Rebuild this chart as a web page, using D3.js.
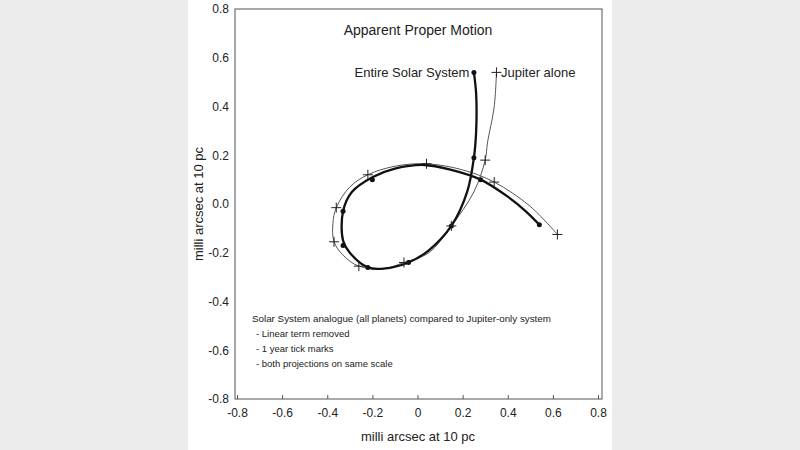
<!DOCTYPE html><html><head><meta charset="utf-8"><script src="https://cdn.jsdelivr.net/npm/d3@7"></script>
<style>body{margin:0;background:#ececec}text{font-family:"Liberation Sans",Arial,sans-serif;fill:#222}</style></head><body>
<svg id="c" width="800" height="450"></svg>
<script>
const ticks=[-0.8,-0.6,-0.4,-0.2,0,0.2,0.4,0.6,0.8];
const solarX=[0.25,0.26,0.26,0.25,0.22,0.15,0.05,-0.04,-0.15,-0.22,-0.3,-0.33,-0.33,-0.29,-0.2,-0.1,0.03,0.15,0.28,0.4,0.48,0.54];
const solarY=[0.54,0.45,0.3,0.19,0.05,-0.09,-0.19,-0.24,-0.265,-0.26,-0.2,-0.15,-0.03,0.05,0.11,0.145,0.16,0.14,0.1,0.03,-0.03,-0.085];
const solarDotX=[0.25,0.25,0.15,-0.04,-0.22,-0.33,-0.33,-0.2,0.28,0.54];
const solarDotY=[0.54,0.19,-0.09,-0.24,-0.26,-0.17,-0.03,0.1,0.1,-0.085];
const jupX=[0.35,0.34,0.31,0.3,0.25,0.15,0.05,-0.06,-0.15,-0.26,-0.33,-0.37,-0.375,-0.36,-0.3,-0.22,-0.1,0.04,0.2,0.34,0.5,0.62];
const jupY=[0.54,0.4,0.25,0.18,0.05,-0.09,-0.2,-0.24,-0.265,-0.255,-0.21,-0.155,-0.08,-0.015,0.07,0.12,0.155,0.165,0.14,0.09,-0.01,-0.125];
const jupTickX=[0.35,0.3,0.15,-0.06,-0.26,-0.37,-0.36,-0.22,0.04,0.34,0.62];
const jupTickY=[0.54,0.18,-0.09,-0.24,-0.255,-0.155,-0.015,0.12,0.165,0.09,-0.125];
const notes=["Solar  System analogue (all planets) compared to Jupiter-only system","-  Linear term removed","-  1 year tick marks","-  both projections on same scale"];

const svg=d3.select("#c");
svg.append("rect").attr("x",188).attr("y",0).attr("width",424).attr("height",450).attr("fill","#fff");
const x=d3.scaleLinear().domain([-0.8,0.8]).range([237,598]);
const y=d3.scaleLinear().domain([-0.8,0.8]).range([399,9]);
const fmt=d=>d3.format(".1f")(d).replace("−","-");
svg.append("rect").attr("x",235).attr("y",9).attr("width",367).attr("height",390).attr("fill","none").attr("stroke","#555").attr("stroke-width",1);
svg.append("g").attr("transform","translate(0,399)").call(d3.axisBottom(x).tickValues(ticks).tickSize(-4).tickPadding(9).tickFormat(d=>d===0?"0":fmt(d)))
 .call(g=>{g.select(".domain").remove();g.selectAll("line").attr("stroke","#555");g.selectAll("text").attr("font-size",12).attr("fill","#333");});
svg.append("g").attr("transform","translate(235,0)").call(d3.axisLeft(y).tickValues(ticks).tickSize(0).tickPadding(6).tickFormat(fmt))
 .call(g=>{g.select(".domain").remove();g.selectAll("text").attr("font-size",12).attr("fill","#333");});
svg.append("text").attr("x",418).attr("y",441).attr("text-anchor","middle").attr("font-size",13).text("milli arcsec at 10 pc");
svg.append("text").attr("transform","translate(203,204) rotate(-90)").attr("text-anchor","middle").attr("font-size",13).text("milli arcsec at 10 pc");
svg.append("text").attr("x",418).attr("y",35).attr("text-anchor","middle").attr("font-size",14).text("Apparent Proper Motion");
const line=d3.line().curve(d3.curveCatmullRom).x(d=>x(d[0])).y(d=>y(d[1]));
svg.append("path").datum(jupX.map((v,i)=>[v,jupY[i]])).attr("d",line).attr("fill","none").attr("stroke","#555").attr("stroke-width",1);
svg.append("path").datum(solarX.map((v,i)=>[v,solarY[i]])).attr("d",line).attr("fill","none").attr("stroke","#111").attr("stroke-width",2.3);
solarDotX.forEach((v,i)=>svg.append("circle").attr("cx",x(v)).attr("cy",y(solarDotY[i])).attr("r",2.5).attr("fill","#111"));
jupTickX.forEach((v,i)=>{const cx=x(v),cy=y(jupTickY[i]);
 svg.append("path").attr("d",`M${cx-5},${cy}H${cx+5}M${cx},${cy-5}V${cy+5}`).attr("stroke","#222").attr("stroke-width",1);});
svg.append("text").attr("x",x(0.23)).attr("y",y(0.54)+5).attr("text-anchor","end").attr("font-size",13).text("Entire Solar System");
svg.append("text").attr("x",x(0.37)).attr("y",y(0.54)+5).attr("font-size",13).text("Jupiter alone");
notes.forEach((t,i)=>svg.append("text").attr("x",i?256:252).attr("y",322+i*15).attr("font-size",i?9.5:9.8).text(t));
</script></body></html>
